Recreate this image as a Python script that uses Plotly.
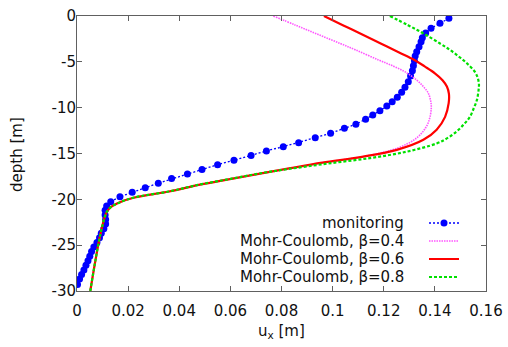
import plotly.graph_objects as go

# ---- data ----
mon_depth = [-0.25, -0.80, -1.34, -1.85, -2.37, -2.80, -3.35, -3.89, -4.36, -4.87,
             -5.42, -5.97, -6.54, -7.16, -7.78, -8.32, -8.87, -9.35, -9.81, -10.33,
             -10.80, -11.26, -11.81, -12.25, -12.79, -13.27, -13.82, -14.25, -14.72, -15.23,
             -15.74, -16.22, -16.74, -17.23, -17.74, -18.24, -18.74, -19.23, -19.72, -20.25,
             -20.72, -21.2, -21.7, -22.2, -22.7, -23.2, -23.7, -24.2, -24.7, -25.2,
             -25.7, -26.2, -26.7, -27.2, -27.7, -28.2, -28.7, -29.3]
mon_ux = [0.1455, 0.1420, 0.1385, 0.1364, 0.1351, 0.1346, 0.1338, 0.1329, 0.1323, 0.1320,
          0.1316, 0.1312, 0.1305, 0.1296, 0.1283, 0.1270, 0.1253, 0.1233, 0.1212, 0.1185,
          0.1157, 0.1129, 0.1091, 0.1046, 0.0992, 0.0932, 0.0867, 0.0807, 0.0741, 0.0681,
          0.0614, 0.0550, 0.0489, 0.0432, 0.0370, 0.0318, 0.0267, 0.0216, 0.0168, 0.0132,
          0.0116, 0.0110, 0.0110, 0.0112, 0.0112, 0.0105, 0.0095, 0.0088, 0.0078, 0.0066,
          0.0057, 0.0050, 0.0043, 0.0035, 0.0027, 0.0018, 0.0010, 0.0002]

b04_depth = [0, -1, -2, -3, -3.7, -4.8, -5.5, -6.2, -7.0, -7.7, -8.4, -9.2, -9.9, -11.0,
             -12.1, -13.3, -14.4, -15.3, -16.0, -16.6, -17.2, -17.8, -18.4, -19.15, -19.8,
             -20.3, -20.8, -21.3, -21.8, -24, -27, -30]
b04_ux = [0.0768, 0.0855, 0.0942, 0.1030, 0.1090, 0.1180, 0.1240, 0.1290, 0.1329, 0.1355,
          0.1374, 0.1383, 0.1386, 0.1381, 0.1366, 0.1329, 0.1255, 0.1125, 0.0965, 0.0835,
          0.0716, 0.0598, 0.0481, 0.0360, 0.0225, 0.0170, 0.0135, 0.0118, 0.0110, 0.0090,
          0.0070, 0.0052]

b06_depth = [0, -1, -2, -3, -4, -4.8, -5.5, -6.25, -7.0, -7.7, -8.5, -9.5, -11.0, -12.4,
             -13.5, -14.6, -15.34, -16.0, -16.6, -17.2, -17.8, -18.4, -19.15, -19.8,
             -20.3, -20.8, -21.3, -21.8, -24, -27, -30]
b06_ux = [0.0966, 0.1040, 0.1114, 0.1188, 0.1262, 0.1320, 0.1360, 0.1400, 0.1430, 0.1447,
          0.1455, 0.1454, 0.1440, 0.1407, 0.1355, 0.1251, 0.1120, 0.0960, 0.0835, 0.0716,
          0.0598, 0.0481, 0.0360, 0.0225, 0.0170, 0.0135, 0.0118, 0.0110, 0.0090, 0.0070,
          0.0052]

b08_depth = [0, -1, -1.9, -3.0, -3.7, -4.5, -5.2, -6.25, -7.3, -8.3, -9.2, -10.0, -11.0,
             -11.8, -12.6, -13.3, -13.9, -14.8, -15.5, -16.1, -16.7, -17.2, -17.8, -18.4,
             -19.15, -19.8, -20.3, -20.8, -21.3, -21.8, -24, -27, -30]
b08_ux = [0.1224, 0.1295, 0.1355, 0.1420, 0.1459, 0.1497, 0.1527, 0.1560, 0.1572, 0.1570,
          0.1564, 0.1553, 0.1537, 0.1514, 0.1485, 0.1450, 0.1407, 0.1290, 0.1146, 0.0980,
          0.0825, 0.0710, 0.0594, 0.0478, 0.0358, 0.0224, 0.0170, 0.0135, 0.0118, 0.0110,
          0.0090, 0.0070, 0.0052]

series_names = ["monitoring", "Mohr-Coulomb, β=0.4", "Mohr-Coulomb, β=0.6", "Mohr-Coulomb, β=0.8"]

x_tickvals = [0, 0.02, 0.04, 0.06, 0.08, 0.10, 0.12, 0.14, 0.16]
x_ticktext = ["0", "0.02", "0.04", "0.06", "0.08", "0.1", "0.12", "0.14", "0.16"]
y_tickvals = [0, -5, -10, -15, -20, -25, -30]
y_ticktext = ["0", "-5", "-10", "-15", "-20", "-25", "-30"]

x_title = "u<sub>x</sub> [m]"
y_title = "depth [m]"

# ---- figure ----
FONT = "DejaVu Sans, sans-serif"
TXT = "#111111"
FS = 15
SX0, SX1, SY0, SY1 = 77, 486, 16, 291   # plot box in screen pixels
W, H = 508, 347
L, T = SX0, SY0
R, B = W - SX1, H - SY1
PW, PH = SX1 - SX0, SY1 - SY0


def px(sx):
    return (sx - SX0) / PW


def py(sy):
    return (SY1 - sy) / PH


legend_ids = ["legend", "legend2", "legend3", "legend4"]
legend_rows = [223, 241, 259, 277]

fig = go.Figure()

fig.add_trace(go.Scatter(x=mon_ux, y=mon_depth, mode="lines+markers", name="",
                         hovertext=series_names[0], legend=legend_ids[0],
                         line=dict(color="#0000ff", width=1.3, dash="2px,2px"),
                         marker=dict(color="#0000ff", size=7, symbol="circle")))
fig.add_trace(go.Scatter(x=b04_ux, y=b04_depth, mode="lines", name="",
                         hovertext=series_names[1], legend=legend_ids[1],
                         line=dict(color="#ff55ff", width=1.6, dash="1.5px,1px", shape="spline")))
fig.add_trace(go.Scatter(x=b06_ux, y=b06_depth, mode="lines", name="",
                         hovertext=series_names[2], legend=legend_ids[2],
                         line=dict(color="#ff0000", width=2.2, shape="spline")))
fig.add_trace(go.Scatter(x=b08_ux, y=b08_depth, mode="lines", name="",
                         hovertext=series_names[3], legend=legend_ids[3],
                         line=dict(color="#00e000", width=2.2, dash="3px,2px", shape="spline")))

axis_common = dict(showline=True, linecolor="#606060", linewidth=1, mirror="ticks",
                   ticks="inside", ticklen=5, tickcolor="#606060", showgrid=False,
                   zeroline=False, automargin=False, ticklabeloverflow="allow",
                   tickfont=dict(family=FONT, size=FS, color=TXT))

fig.update_xaxes(range=[0, 0.16], tickvals=x_tickvals, ticktext=x_ticktext,
                 ticklabelstandoff=6, **axis_common)
fig.update_yaxes(range=[-30, 0], tickvals=y_tickvals, ticktext=y_ticktext,
                 ticklabelstandoff=-3, **axis_common)

# axis titles
fig.add_annotation(text=x_title, xref="paper", yref="paper", x=0.5, y=py(331),
                   xanchor="center", yanchor="middle", showarrow=False,
                   font=dict(family=FONT, size=FS, color=TXT))
fig.add_annotation(text=y_title, xref="paper", yref="paper", x=px(17), y=py(154),
                   xanchor="center", yanchor="middle", showarrow=False, textangle=-90,
                   font=dict(family=FONT, size=FS, color=TXT))

# legend labels, right-aligned (samples drawn by the legends to their right)
for name, sy in zip(series_names, legend_rows):
    fig.add_annotation(text=name, xref="paper", yref="paper", x=px(406),
                       y=py(sy), xanchor="right", yanchor="middle", showarrow=False,
                       font=dict(family=FONT, size=FS, color=TXT))

legend_layout = {}
for lid, sy in zip(legend_ids, legend_rows):
    legend_layout[lid] = dict(x=px(424), y=py(sy), xanchor="left", yanchor="middle",
                              bgcolor="rgba(0,0,0,0)", font=dict(size=10), itemwidth=30)

fig.update_layout(width=W, height=H, margin=dict(l=L, r=R, t=T, b=B, autoexpand=False),
                  plot_bgcolor="white", paper_bgcolor="white",
                  showlegend=True, **legend_layout)

fig.write_html("out.html", config={"displayModeBar": False},
               post_script="document.body.style.margin='0';document.body.style.overflow='hidden';")
